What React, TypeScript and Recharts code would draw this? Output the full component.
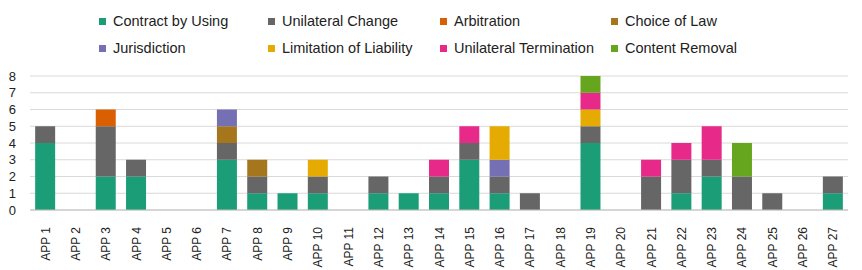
import { BarChart, Bar, XAxis, YAxis, CartesianGrid } from "recharts";

const apps = Array.from({ length: 27 }, (_, i) => `APP ${i + 1}`);

const contractByUsing = [4, 0, 2, 2, 0, 0, 3, 1, 1, 1, 0, 1, 1, 1, 3, 1, 0, 0, 4, 0, 0, 1, 2, 0, 0, 0, 1];
const unilateralChange = [1, 0, 3, 1, 0, 0, 1, 1, 0, 1, 0, 1, 0, 1, 1, 1, 1, 0, 1, 0, 2, 2, 1, 2, 1, 0, 1];
const arbitration = [0, 0, 1, 0, 0, 0, 0, 0, 0, 0, 0, 0, 0, 0, 0, 0, 0, 0, 0, 0, 0, 0, 0, 0, 0, 0, 0];
const choiceOfLaw = [0, 0, 0, 0, 0, 0, 1, 1, 0, 0, 0, 0, 0, 0, 0, 0, 0, 0, 0, 0, 0, 0, 0, 0, 0, 0, 0];
const jurisdiction = [0, 0, 0, 0, 0, 0, 1, 0, 0, 0, 0, 0, 0, 0, 0, 1, 0, 0, 0, 0, 0, 0, 0, 0, 0, 0, 0];
const limitationOfLiability = [0, 0, 0, 0, 0, 0, 0, 0, 0, 1, 0, 0, 0, 0, 0, 2, 0, 0, 1, 0, 0, 0, 0, 0, 0, 0, 0];
const unilateralTermination = [0, 0, 0, 0, 0, 0, 0, 0, 0, 0, 0, 0, 0, 1, 1, 0, 0, 0, 1, 0, 1, 1, 2, 0, 0, 0, 0];
const contentRemoval = [0, 0, 0, 0, 0, 0, 0, 0, 0, 0, 0, 0, 0, 0, 0, 0, 0, 0, 1, 0, 0, 0, 0, 2, 0, 0, 0];
const yTicks = [0, 1, 2, 3, 4, 5, 6, 7, 8];

const series = [
    { key: "contract", name: "Contract by Using", values: contractByUsing, color: "#1b9e77" },
    { key: "unilateral", name: "Unilateral Change", values: unilateralChange, color: "#666666" },
    { key: "arbitration", name: "Arbitration", values: arbitration, color: "#d95f02" },
    { key: "choice", name: "Choice of Law", values: choiceOfLaw, color: "#a6761d" },
    { key: "jurisdiction", name: "Jurisdiction", values: jurisdiction, color: "#7570b3" },
    { key: "limitation", name: "Limitation of Liability", values: limitationOfLiability, color: "#e6ab02" },
    { key: "termination", name: "Unilateral Termination", values: unilateralTermination, color: "#e7298a" },
    { key: "content", name: "Content Removal", values: contentRemoval, color: "#66a61e" },
];

const data = apps.map((label, i) => {
    const row: Record<string, string | number> = { label };
    series.forEach(s => { row[s.key] = s.values[i]; });
    return row;
});

const FONT = "'Liberation Sans', Arial, sans-serif";

function AppTick({ x, y, payload }: any) {
    return (
        <g transform={`translate(${x},${y + 9}) rotate(-90)`}>
            <text x={0} y={0} dy={4.5} textAnchor="end" fontSize={12} fill="#222" fontFamily={FONT}>
                {payload.value}
            </text>
        </g>
    );
}

function ChartLegend() {
    const colX = [99, 268, 440, 611];
    const rowY = [21, 48];
    return (
        <>
            {series.map((s, i) => (
                <div
                    key={s.key}
                    style={{
                        position: "absolute",
                        left: colX[i % 4],
                        top: rowY[Math.floor(i / 4)] - 10,
                        height: 20,
                        display: "flex",
                        alignItems: "center",
                        fontFamily: FONT,
                        fontSize: 14.5,
                        color: "#222",
                        whiteSpace: "nowrap",
                    }}
                >
                    <span style={{ display: "inline-block", width: 7, height: 7, background: s.color, marginRight: 7 }} />
                    {s.name}
                </div>
            ))}
        </>
    );
}

export default function App() {
    return (
        <div style={{ position: "relative", width: 862, height: 270, background: "#fff" }}>
            <style>{"body{margin:0}"}</style>
            <ChartLegend />
            <BarChart
                width={862}
                height={270}
                data={data}
                margin={{ top: 76, right: 14, bottom: 0, left: 0 }}
                barCategoryGap="17%"
            >
                <CartesianGrid vertical={false} stroke="#d9d9d9" />
                <XAxis
                    dataKey="label"
                    interval={0}
                    height={60}
                    tickLine={false}
                    axisLine={{ stroke: "#bfbfbf" }}
                    tick={<AppTick />}
                />
                <YAxis
                    width={30}
                    domain={[0, 8]}
                    ticks={yTicks}
                    interval={0}
                    axisLine={false}
                    tickLine={false}
                    tickMargin={8}
                    tick={{ fontSize: 13, fill: "#222", fontFamily: FONT }}
                />
                {series.map(s => (
                    <Bar key={s.key} dataKey={s.key} name={s.name} stackId="a" fill={s.color} isAnimationActive={false} />
                ))}
            </BarChart>
        </div>
    );
}
